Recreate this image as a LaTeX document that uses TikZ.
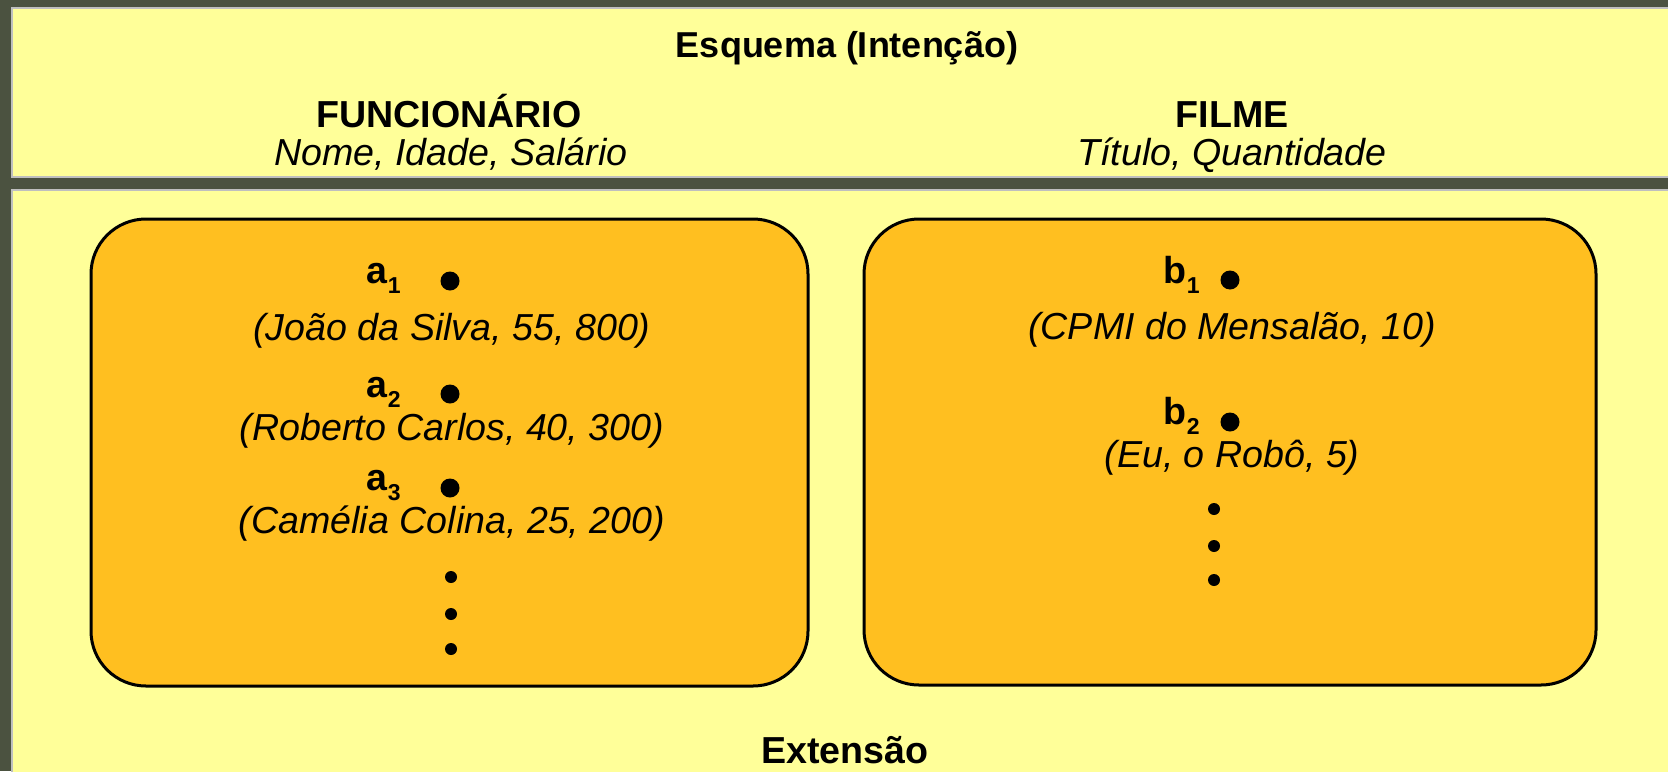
\documentclass[tikz,border=0pt]{standalone}
\usepackage{fontspec}
\setmainfont{Liberation Sans}
\usetikzlibrary{positioning}
\definecolor{fundo}{HTML}{4B5240}
\definecolor{painel}{HTML}{FFFF99}
\definecolor{caixa}{HTML}{FFBF20}
\definecolor{borda}{HTML}{BFBFBF}
\newcommand{\ind}[1]{\raisebox{-5pt}{\fontsize{11.5}{12}\selectfont #1}}

\begin{document}
\begin{tikzpicture}[x=0.5pt,y=-0.5pt]
	\tikzstyle{painelbox}=[draw=borda,line width=1pt,fill=painel]
	\tikzstyle{conj}=[draw=black,line width=1.5pt,fill=caixa,rounded corners=27.5pt]
	\tikzstyle{titulo}=[font=\fontsize{18.8}{20}\selectfont\bfseries,anchor=base,inner sep=0pt]
	\tikzstyle{attr}=[font=\fontsize{18.8}{20}\selectfont\itshape,anchor=base,inner sep=0pt]
	\tikzstyle{elem}=[font=\fontsize{18.8}{20}\selectfont\bfseries,anchor=base east,inner sep=0pt]
	\tikzstyle{ponto}=[circle,fill=black,inner sep=0pt,minimum size=9.5pt]
	\tikzstyle{pontinho}=[circle,fill=black,inner sep=0pt,minimum size=6pt]
	\useasboundingbox (0,0) rectangle (1668,771);
	\fill[fundo] (0,0) rectangle (1668,771);
	% paineis
	\draw[painelbox] (12,8) rectangle (1690,177);
	\draw[painelbox] (12,190) rectangle (1690,800);
	\node[titulo,font=\fontsize{18}{20}\selectfont\bfseries] (esq) at (847,57) {Esquema (Intenção)};
	\node[titulo] (func) at (449,127) {FUNCIONÁRIO};
	\node[attr] (funcattr) at (451,165) {Nome, Idade, Salário};
	\node[titulo] (filme) at (1232,127) {FILME};
	\node[attr] (filmeattr) at (1232,165) {Título, Quantidade};
	\node[titulo] (ext) at (845,763) {Extensão};
	% conjuntos
	\draw[conj] (91,219) rectangle (808,686);
	\draw[conj] (864,219) rectangle (1596,685);
	% funcionarios
	\node[elem] (a1) at (401,283) {a\ind{1}};
	\node[ponto] (pa1) at (450,281) {};
	\node[attr] (ta1) at (452,340) {(João da Silva, 55, 800)};
	\node[elem] (a2) at (401,397) {a\ind{2}};
	\node[ponto] (pa2) at (450,394) {};
	\node[attr] (ta2) at (452,440) {(Roberto Carlos, 40, 300)};
	\node[elem] (a3) at (401,490) {a\ind{3}};
	\node[ponto] (pa3) at (450,488) {};
	\node[attr] (ta3) at (452,533) {(Camélia Colina, 25, 200)};
	\foreach \y [count=\i] in {577,614,649}
		\node[pontinho] (ra\i) at (451,\y) {};
	% filmes
	\node[elem] (b1) at (1200,283) {b\ind{1}};
	\node[ponto] (pb1) at (1230,280) {};
	\node[attr] (tb1) at (1232,339) {(CPMI do Mensalão, 10)};
	\node[elem] (b2) at (1200,424) {b\ind{2}};
	\node[ponto] (pb2) at (1230,422) {};
	\node[attr] (tb2) at (1232,467) {(Eu, o Robô, 5)};
	\foreach \y [count=\i] in {509,546,580}
		\node[pontinho] (rb\i) at (1214,\y) {};
\end{tikzpicture}
\end{document}
